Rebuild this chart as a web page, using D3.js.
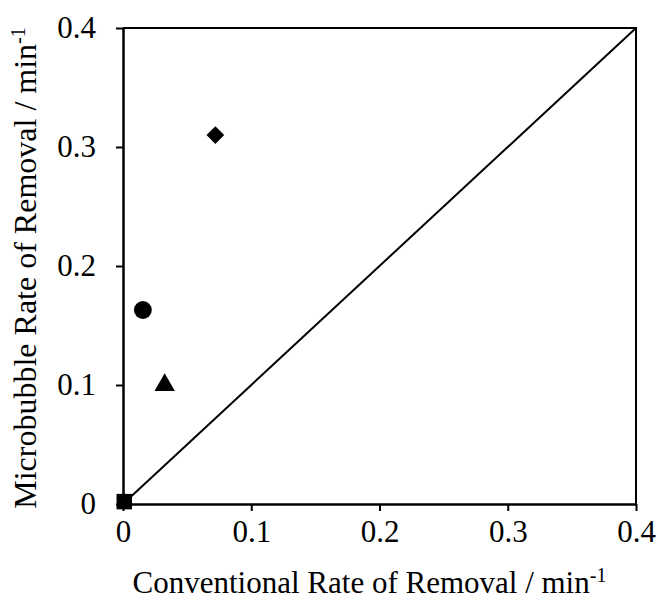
<!DOCTYPE html>
<html>
<head>
<meta charset="utf-8">
<script src="https://cdn.jsdelivr.net/npm/d3@7"></script>
<style>
  html, body { margin: 0; padding: 0; background: #fff; }
  svg { display: block; }
  text { font-family: "Liberation Serif", "Times New Roman", serif; fill: #000; }
</style>
</head>
<body>
<svg id="chart" width="658" height="603"></svg>
<script>
// Removal rates (min^-1): conventional vs. microbubble treatment
const conventional = [0.072, 0.0155, 0.0325, 0.001];
const microbubble  = [0.310, 0.163, 0.100, 0.002];
const markerShapes = ["diamond", "circle", "triangle", "square"];
const tickValues = [0, 0.1, 0.2, 0.3, 0.4];
const xTitle = "Conventional Rate of Removal / min";
const yTitle = "Microbubble Rate of Removal / min";
const unitExponent = "-1";

const svg = d3.select("#chart");
const margin = { left: 123, right: 22, top: 28, bottom: 99 };
const W = 658, H = 603;

const x = d3.scaleLinear().domain([0, 0.4]).range([margin.left, W - margin.right]);
const y = d3.scaleLinear().domain([0, 0.4]).range([H - margin.bottom, margin.top]);

const fmt = d => d === 0 ? "0" : d3.format(".1f")(d);

// plot frame (top and right edges)
svg.append("path")
  .attr("d", `M${x(0)},${y(0.4)}H${x(0.4)}V${y(0)}`)
  .attr("fill", "none").attr("stroke", "#000").attr("stroke-width", 2);

// 1:1 reference line
svg.append("line")
  .attr("x1", x(0)).attr("y1", y(0))
  .attr("x2", x(0.4)).attr("y2", y(0.4))
  .attr("stroke", "#000").attr("stroke-width", 2);

// axes
const xAxis = svg.append("g")
  .attr("transform", `translate(0,${y(0)})`)
  .call(d3.axisBottom(x).tickValues(tickValues).tickFormat(fmt).tickSizeInner(7).tickSizeOuter(0).tickPadding(9));
const yAxis = svg.append("g")
  .attr("transform", `translate(${x(0)},0)`)
  .call(d3.axisLeft(y).tickValues(tickValues).tickFormat(fmt).tickSizeInner(7).tickSizeOuter(0).tickPadding(20));

[xAxis, yAxis].forEach(g => {
  g.select(".domain").attr("stroke", "#000").attr("stroke-width", 2.5);
  g.selectAll(".tick line").attr("stroke", "#000").attr("stroke-width", 2);
  g.selectAll(".tick text")
    .attr("font-family", "Liberation Serif, Times New Roman, serif")
    .attr("font-size", 31).attr("fill", "#000");
});

// markers
const symbolFor = {
  diamond: d3.symbolDiamond2,
  circle: d3.symbolCircle,
  triangle: d3.symbolTriangle,
  square: d3.symbolSquare
};
const symbolSize = { diamond: 200, circle: 250, triangle: 180, square: 240 };

svg.append("g").selectAll("path")
  .data(conventional.map((c, i) => ({ c, m: microbubble[i], s: markerShapes[i] })))
  .join("path")
  .attr("transform", d => `translate(${x(d.c)},${y(d.m)})`)
  .attr("d", d => d3.symbol(symbolFor[d.s], symbolSize[d.s])())
  .attr("fill", "#000");

// axis titles with superscript unit exponent
const xt = svg.append("text")
  .attr("x", (x(0) + x(0.4)) / 2 - 10).attr("y", 593)
  .attr("text-anchor", "middle").attr("font-size", 31);
xt.append("tspan").text(xTitle);
xt.append("tspan").attr("font-size", 20).attr("dy", -11).text(unitExponent);

const yt = svg.append("text")
  .attr("transform", `translate(36,268) rotate(-90)`)
  .attr("text-anchor", "middle").attr("font-size", 32);
yt.append("tspan").text(yTitle);
yt.append("tspan").attr("font-size", 20).attr("dy", -11).text(unitExponent);
</script>
</body>
</html>
